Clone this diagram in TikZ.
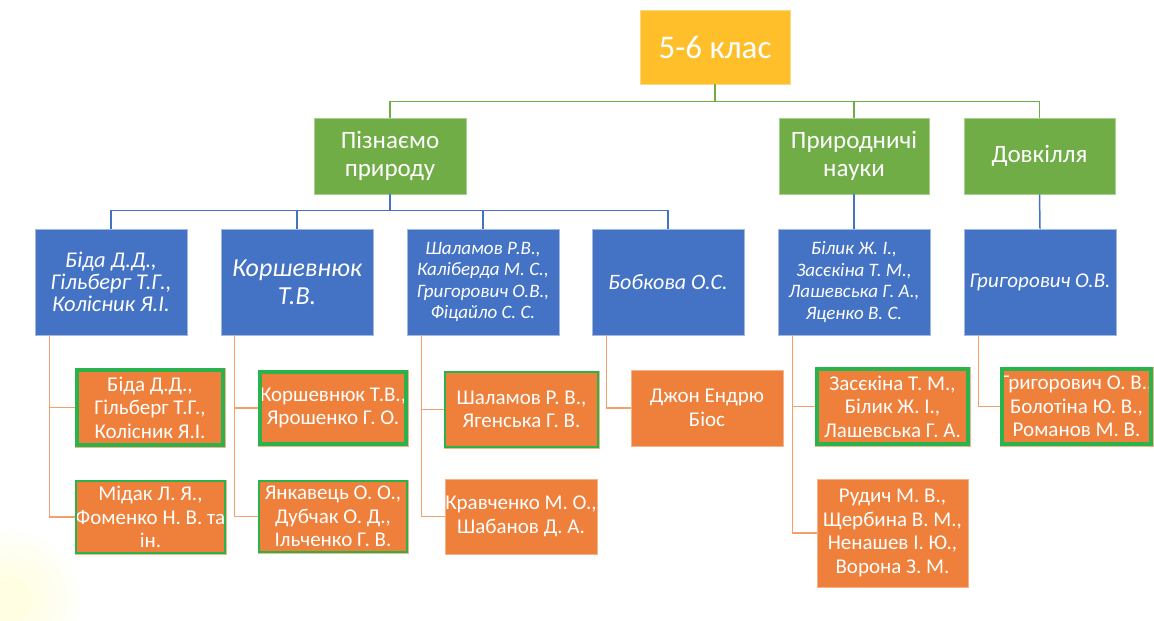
\documentclass[tikz,border=0pt]{standalone}
\usepackage{fontspec}
\setmainfont{Carlito}
\definecolor{rootc}{HTML}{FEBF2B}
\definecolor{greenc}{HTML}{70AD47}
\definecolor{bluec}{HTML}{4472C4}
\definecolor{orangec}{HTML}{EE803C}
\definecolor{borderg}{HTML}{2AB24D}
\definecolor{olinec}{HTML}{F3A06C}
\begin{document}
\begin{tikzpicture}[x=1pt,y=-1pt,
  every node/.style={inner sep=0pt, align=center, text=white},
  rootbox/.style={fill=rootc, draw=rootc!60!white, line width=0.6pt, font=\fontsize{33}{36}\selectfont},
  greenbox/.style={fill=greenc, draw=greenc!60!white, line width=0.6pt, font=\fontsize{25}{28}\selectfont},
  bluebox/.style={fill=bluec, draw=bluec!50!white, line width=0.8pt, minimum width=152pt, minimum height=106pt},
  orangebox/.style={fill=orangec, draw=orangec!60!white, line width=0.6pt, font=\fontsize{21}{23.5}\selectfont},
  gthick/.style={draw=borderg, line width=4pt},
  gthin/.style={draw=borderg, line width=2pt},
  gline/.style={draw=greenc, line width=1.5pt},
  bline/.style={draw=bluec, line width=1.5pt},
  oline/.style={draw=olinec, line width=1.5pt}
]
\useasboundingbox (0,0) rectangle (1154,621);
\begin{scope}
\clip (0,480) rectangle (120,621);
\foreach \r in {70,58,46,34,22} {\fill[yellow, opacity=0.025] (10,600) circle (\r pt);}
\end{scope}

% root
\node[rootbox, minimum width=150pt, minimum height=74pt] (root) at (715,47) {5-6 клас};

% green level
\node[greenbox, minimum width=152pt, minimum height=76pt] (g1) at (390,156) {Пізнаємо\\природу};
\node[greenbox, minimum width=150pt, minimum height=76pt] (g2) at (854,156) {Природничі\\науки};
\node[greenbox, minimum width=151pt, minimum height=76pt] (g3) at (1039.5,156) {Довкілля};

% blue level
\node[bluebox, font=\itshape\fontsize{22.5}{22}\selectfont] (b1) at (111,282) {Біда Д.Д.,\\Гільберг Т.Г.,\\Колісник Я.І.};
\node[bluebox, font=\itshape\fontsize{26}{28}\selectfont] (b2) at (297,282) {Коршевнюк\\Т.В.};
\node[bluebox, font=\itshape\fontsize{19}{21.5}\selectfont] (b3) at (483,282) {Шаламов Р.В.,\\Каліберда М. С.,\\Григорович О.В.,\\Фіцайло С. С.};
\node[bluebox, font=\itshape\fontsize{22}{22}\selectfont] (b4) at (668,282) {Бобкова О.С.};
\node[bluebox, font=\itshape\fontsize{19}{21.5}\selectfont] (b5) at (854,282) {Білик Ж. І.,\\Засєкіна Т. М.,\\Лашевська Г. А.,\\Яценко В. С.};
\node[bluebox, font=\itshape\fontsize{21}{22}\selectfont] (b6) at (1040,282) {Григорович О.В.};

% orange level
\node[orangebox, minimum width=150pt, minimum height=79pt] (o1) at (150,407.5) {Біда Д.Д.,\\Гільберг Т.Г.,\\Колісник Я.І.};
\node[orangebox, minimum width=151pt, minimum height=74pt] (o2) at (150.5,517) {Мідак Л. Я.,\\Фоменко Н. В. та\\ін.};
\node[orangebox, minimum width=150pt, minimum height=76pt] (o3) at (333,408) {Коршевнюк Т.В.,\\Ярошенко Г. О.};
\node[orangebox, minimum width=150pt, minimum height=73pt] (o4) at (333,516.5) {Янкавець О. О.,\\Дубчак О. Д.,\\Ільченко Г. В.};
\node[orangebox, minimum width=155pt, minimum height=77pt] (o5) at (521.5,409.5) {Шаламов Р. В.,\\Ягенська Г. В.};
\node[orangebox, minimum width=152pt, minimum height=75pt] (o6) at (521,516.5) {Кравченко М. О.,\\Шабанов Д. А.};
\node[orangebox, minimum width=152pt, minimum height=76pt] (o7) at (707,408) {Джон Ендрю\\Біос};
\node[orangebox, minimum width=155pt, minimum height=79pt] (o8) at (892.5,406.5) {Засєкіна Т. М.,\\Білик Ж. І.,\\Лашевська Г. А.};
\node[orangebox, minimum width=151pt, minimum height=108pt] (o9) at (892.5,533) {Рудич М. В.,\\Щербина В. М.,\\Ненашев І. Ю.,\\Ворона З. М.};
\node[orangebox, minimum width=153pt, minimum height=79pt] (o10) at (1076.5,406.5) {Григорович О. В.,\\Болотіна Ю. В.,\\Романов М. В.};

% green borders
\draw[gthick] ([shift={(2,-2)}]o1.south west) rectangle ([shift={(-2,2)}]o1.north east);
\draw[gthin] ([shift={(1,-1)}]o2.south west) rectangle ([shift={(-1,1)}]o2.north east);
\draw[gthick] ([shift={(2,-2)}]o3.south west) rectangle ([shift={(-2,2)}]o3.north east);
\draw[gthin] ([shift={(1,-1)}]o4.south west) rectangle ([shift={(-1,1)}]o4.north east);
\draw[gthin] ([shift={(1,-1)}]o5.south west) rectangle ([shift={(-1,1)}]o5.north east);
\draw[gthick] ([shift={(2,-2)}]o8.south west) rectangle ([shift={(-2,2)}]o8.north east);
\draw[gthick] ([shift={(2,-2)}]o10.south west) rectangle ([shift={(-2,2)}]o10.north east);

% green connectors
\draw[gline] (root.south) -- ++(0,17) -| (g1.north);
\draw[gline] (root.south) -- ++(0,17) -| (g2.north);
\draw[gline] (root.south) -- ++(0,17) -| (g3.north);

% blue connectors
\foreach \b in {b1,b2,b3,b4} {\draw[bline] (g1.south) -- ++(0,16) -| (\b.north);}
\draw[bline] (g2.south) -- (b5.north);
\draw[bline] (g3.south) -- (b6.north);

% orange connectors
\draw[oline] ([xshift=15pt]b1.south west) |- (o1.west);
\draw[oline] ([xshift=15pt]b1.south west) |- (o2.west);
\draw[oline] ([xshift=14pt]b2.south west) |- (o3.west);
\draw[oline] ([xshift=14pt]b2.south west) |- (o4.west);
\draw[oline] ([xshift=15pt]b3.south west) |- (o5.west);
\draw[oline] ([xshift=15pt]b3.south west) |- (o6.west);
\draw[oline] ([xshift=15pt]b4.south west) |- (o7.west);
\draw[oline] ([xshift=15pt]b5.south west) |- (o8.west);
\draw[oline] ([xshift=15pt]b5.south west) |- (o9.west);
\draw[oline] ([xshift=15pt]b6.south west) |- (o10.west);
\end{tikzpicture}
\end{document}
